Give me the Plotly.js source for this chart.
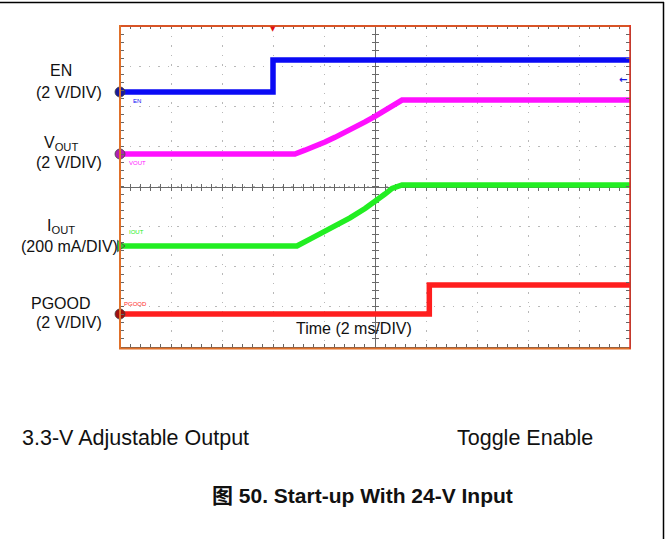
<!DOCTYPE html>
<html>
<head>
<meta charset="utf-8">
<script src="https://cdn.plot.ly/plotly-3.0.1.min.js"></script>
<style>
html,body{margin:0;padding:0;background:#fff;}
#chart{width:669px;height:539px;}
</style>
</head>
<body>
<div id="chart"></div>
<script>
// ---- data (time in ms, 2 ms/div) ----
const enTime    = [0, 6.0, 6.0, 20];
const enVolt    = [0, 0, 1.6, 1.6];
const voutTime  = [0, 6.86, 7.25, 7.65, 8.04, 8.43, 8.82, 9.22, 9.61, 10.0, 10.39, 10.67, 10.86, 11.06, 20];
const voutVolt  = [0, 0, 0.19, 0.38, 0.60, 0.83, 1.07, 1.33, 1.60, 1.88, 2.19, 2.41, 2.57, 2.69, 2.69];
const ioutTime  = [0, 6.94, 7.45, 8.24, 9.02, 9.61, 10.0, 10.39, 10.67, 10.86, 11.06, 20];
const ioutMa    = [0, 0, 34, 87, 140, 187, 219, 259, 287, 299, 304, 304];
const pgoodTime = [0, 12.13, 12.13, 20];
const pgoodVolt = [0, 0, 1.45, 1.45];

const channelNames   = ['EN', 'VOUT', 'IOUT', 'PGOOD'];
const channelOffset  = [6.355, 4.81, 2.517, 0.822];   // ground level, divisions
const channelPerDiv  = [2, 2, 200, 2];                // V/div, V/div, mA/div, V/div
const channelColors  = ['#0a0af5', '#ff10ff', '#22ee22', '#ff1e1e'];
const markerColors   = ['#1a1a9a', '#b020b0', '#30d030', '#a01010'];
const markerSymbols  = ['circle', 'circle', 'triangle-right', 'circle'];

const leftLabels = [
  {t:'EN', x:61, y:70.5}, {t:'(2 V/DIV)', x:69, y:92.5},
  {t:'V<sub>OUT</sub>', x:61, y:143}, {t:'(2 V/DIV)', x:69, y:162},
  {t:'I<sub>OUT</sub>', x:61, y:226}, {t:'(200 mA/DIV)', x:69, y:246.5},
  {t:'PGOOD', x:61, y:303}, {t:'(2 V/DIV)', x:69, y:322}
];

// ---- layout helpers (pixel -> paper) ----
const L = 120, R = 630, T = 26, B = 347;
const PX = x => (x - L) / (R - L);
const PY = y => (B - y) / (B - T);
const FONT = 'Liberation Sans, Arial, sans-serif';

const series = [
  [enTime, enVolt], [voutTime, voutVolt], [ioutTime, ioutMa], [pgoodTime, pgoodVolt]
];

const traces = [];
series.forEach((s, i) => {
  traces.push({
    type: 'scatter', mode: 'lines', name: channelNames[i],
    x: s[0], y: s[1].map(v => channelOffset[i] + v / channelPerDiv[i]),
    line: {color: channelColors[i], width: 5.5},
    hoverinfo: 'skip', showlegend: false
  });
});
traces.push({
  type: 'scatter', mode: 'markers', x: channelOffset.map(() => 0), y: channelOffset,
  marker: {color: markerColors, symbol: markerSymbols, size: 10,
           line: {color: '#444', width: 0.8}},
  cliponaxis: false, hoverinfo: 'skip', showlegend: false
});
// empty traces to activate the centre-line axes
[['x2','y'],['x3','y'],['x','y2'],['x','y3']].forEach(p => {
  traces.push({type:'scatter', x:[], y:[], xaxis:p[0], yaxis:p[1], hoverinfo:'skip', showlegend:false});
});

const centerAx = (side) => ({
  range: [0, 20], overlaying: 'x', anchor: 'free', position: 0.5,
  showline: true, linecolor: '#6a6a6a', linewidth: 1, layer: 'below traces',
  ticks: side, ticklen: 3, tickcolor: '#6a6a6a', tickwidth: 1, dtick: 2, tick0: 0,
  minor: {dtick: 0.4, ticks: side, ticklen: 3, tickcolor: '#6a6a6a'},
  showgrid: false, zeroline: false, showticklabels: false, fixedrange: true
});
const centerAy = (side) => ({
  range: [0, 8], overlaying: 'y', anchor: 'free', position: 0.5, side: 'left',
  showline: true, linecolor: '#6a6a6a', linewidth: 1, layer: 'below traces',
  ticks: side, ticklen: 3, tickcolor: '#6a6a6a', tickwidth: 1, dtick: 1, tick0: 0,
  minor: {dtick: 0.2, ticks: side, ticklen: 3, tickcolor: '#6a6a6a'},
  showgrid: false, zeroline: false, showticklabels: false, fixedrange: true
});

const annotations = leftLabels.map(a => ({
  xref:'paper', yref:'paper', x: PX(a.x), y: PY(a.y), text: a.t, showarrow:false,
  xanchor:'center', yanchor:'middle', font:{family:FONT, size:16, color:'#111'}
}));
// small in-screen channel tags
[['EN', 131, 101], ['VOUT', 127, 163], ['IOUT', 127, 232], ['PGOOD', 122, 304]].forEach((a, i) => {
  annotations.push({xref:'paper', yref:'paper', x: PX(a[1]), y: PY(a[2]), text: a[0],
    showarrow:false, xanchor:'left', yanchor:'middle',
    font:{family:FONT, size:6, color: channelColors[i]}});
});
annotations.push(
  {xref:'paper', yref:'paper', x: PX(354), y: PY(328), text:'Time (2 ms/DIV)', showarrow:false,
   xanchor:'center', yanchor:'middle', font:{family:FONT, size:16, color:'#111'}},
  {xref:'paper', yref:'paper', x: PX(20), y: PY(438), text:'3.3-V Adjustable Output', showarrow:false,
   xanchor:'left', yanchor:'middle', font:{family:FONT, size:21.5, color:'#111'}},
  {xref:'paper', yref:'paper', x: PX(455), y: PY(438), text:'Toggle Enable', showarrow:false,
   xanchor:'left', yanchor:'middle', font:{family:FONT, size:21.5, color:'#111'}},
  {xref:'paper', yref:'paper', x: PX(362), y: PY(495), text:'<b>图 50. Start-up With 24-V Input</b>', showarrow:false,
   xanchor:'center', yanchor:'middle', font:{family:'Liberation Sans, Noto Sans CJK SC, sans-serif', size:21, color:'#111'}},
  // trigger position marker (top) and trigger level arrow (right)
  {xref:'paper', yref:'paper', x: PX(273), y: PY(29), text:'▼', showarrow:false,
   xanchor:'center', yanchor:'middle', font:{family:'DejaVu Sans', size:7, color:'#e01010'}},
  {xref:'paper', yref:'paper', x: PX(623), y: PY(79), text:'<b>←</b>', showarrow:false,
   xanchor:'center', yanchor:'middle', font:{family:'DejaVu Sans', size:10, color:'#1a1ae0'}}
);

const shapes = [
  // outer frame (top and right)
  {type:'line', xref:'paper', yref:'paper', x0:PX(0), x1:PX(664), y0:PY(2.5), y1:PY(2.5), line:{color:'#000', width:1.5}},
  {type:'line', xref:'paper', yref:'paper', x0:PX(663.5), x1:PX(663.5), y0:PY(2), y1:PY(539), line:{color:'#000', width:1.5}},
  // scope screen borders
  {type:'line', xref:'paper', yref:'paper', x0:PX(119), x1:PX(631), y0:PY(26), y1:PY(26), line:{color:'#d85426', width:2}, layer:'above'},
  {type:'line', xref:'paper', yref:'paper', x0:PX(119), x1:PX(631), y0:PY(348.5), y1:PY(348.5), line:{color:'#e0702a', width:2}, layer:'above'},
  {type:'line', xref:'paper', yref:'paper', x0:PX(120), x1:PX(120), y0:PY(25), y1:PY(349), line:{color:'#e0702a', width:2}, layer:'above'},
  {type:'line', xref:'paper', yref:'paper', x0:PX(630), x1:PX(630), y0:PY(25), y1:PY(349), line:{color:'#e83020', width:1.5}, layer:'above'}
];

const layout = {
  width: 669, height: 539,
  margin: {l: L, r: 669 - R, t: T, b: 539 - B, pad: 0},
  paper_bgcolor: '#fff', plot_bgcolor: '#fff',
  showlegend: false,
  xaxis: {
    range: [0, 20], dtick: 2, tick0: 0, showgrid: true, gridcolor: '#b8b8b8', gridwidth: 1,
    griddash: '1.5px,8px', zeroline: false, showticklabels: false,
    showline: true, linecolor: '#555', linewidth: 1, mirror: 'allticks',
    ticks: 'inside', ticklen: 3, tickcolor: '#666', tickwidth: 1,
    minor: {dtick: 0.4, ticks: 'inside', ticklen: 3, tickcolor: '#666', showgrid: false},
    fixedrange: true
  },
  yaxis: {
    range: [0, 8], dtick: 1, tick0: 0, showgrid: true, gridcolor: '#b8b8b8', gridwidth: 1,
    griddash: '1.5px,8px', zeroline: false, showticklabels: false,
    showline: true, linecolor: '#555', linewidth: 1, mirror: 'allticks',
    ticks: 'inside', ticklen: 4, tickcolor: '#666', tickwidth: 1,
    minor: {dtick: 0.2, ticks: 'inside', ticklen: 3, tickcolor: '#666', showgrid: false},
    fixedrange: true
  },
  xaxis2: centerAx('inside'),
  xaxis3: centerAx('outside'),
  yaxis2: centerAy('inside'),
  yaxis3: centerAy('outside'),
  annotations: annotations,
  shapes: shapes
};

Plotly.newPlot('chart', traces, layout, {staticPlot: true, displayModeBar: false});
</script>
</body>
</html>
